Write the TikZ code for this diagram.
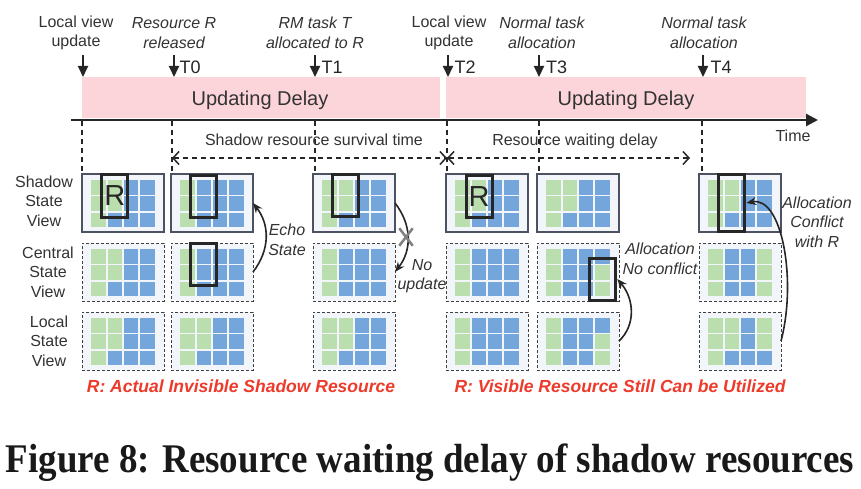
\documentclass[tikz,border=0pt]{standalone}
\usepackage{fontspec}
\setmainfont{Liberation Sans}
\newfontfamily\capfont{Liberation Serif}
\usetikzlibrary{arrows.meta,calc,shapes.misc}

\definecolor{cellg}{HTML}{BBDEAF}
\definecolor{cellb}{HTML}{74A6DB}
\definecolor{bandpink}{HTML}{FCD5DB}
\definecolor{panelbg}{HTML}{F2F5FA}
\definecolor{txt}{HTML}{333333}
\definecolor{redtxt}{HTML}{EE3A2A}
\definecolor{dark}{HTML}{262626}
\definecolor{pborder}{HTML}{4D5263}

\tikzset{
  lbl/.style={font=\fontsize{16}{19.5}\selectfont, text=txt, align=center, inner sep=0pt},
  ilbl/.style={font=\fontsize{16}{19.5}\selectfont\itshape, text=txt, align=center, inner sep=0pt},
  tlbl/.style={font=\fontsize{18}{20}\selectfont, text=dark, inner sep=0pt, anchor=west},
  bigl/.style={font=\fontsize{20}{22}\selectfont, text=txt, inner sep=0pt},
  redl/.style={font=\fontsize{17.5}{20}\selectfont\bfseries\itshape, text=redtxt, inner sep=0pt},
  band/.style={fill=bandpink, inner sep=0pt, minimum height=41pt},
  panel/.style={fill=panelbg, inner sep=0pt, outer sep=0pt, minimum width=82pt, minimum height=58pt},
  shadowbox/.style={draw=pborder, line width=1.2pt},
  dashbox/.style={draw=black!75, line width=1pt, dash pattern=on 3pt off 2pt},
  hl/.style={draw=dark, line width=3pt, inner sep=0pt, minimum width=26pt, minimum height=42pt},
  downarr/.style={draw=dark, line width=2pt, -{Triangle[length=11pt,width=10pt]}},
  axisline/.style={draw=dark, line width=2.5pt, -{Triangle[length=12pt,width=12pt]}},
  vdash/.style={draw=dark, line width=1.5pt, dash pattern=on 5pt off 4pt},
  dblarr/.style={draw=dark, line width=1.5pt, dash pattern=on 5pt off 4pt,
     {Straight Barb[length=6pt,width=13pt]}-{Straight Barb[length=6pt,width=13pt]}},
  curvarr/.style={draw=dark, line width=1.6pt, -{Stealth[length=10pt,width=8pt]}},
}

\newcommand\gridpanel[5]{%
  \node[panel,#4] (#1) at ({#2+41},{#3+29}) {};
  \foreach \c [count=\i from 0] in {#5} {
    \pgfmathtruncatemacro\rw{floor(\i/4)}
    \pgfmathtruncatemacro\cl{\i-4*\rw}
    \fill[fill=cell\c] ({#2+9.25+\cl*16.3},{#3+6+\rw*16.3}) rectangle ++(14.6,14.6);
  }
}

\begin{document}
\begin{tikzpicture}[x=1pt,y=-1pt]
\useasboundingbox (0,0) rectangle (861,489);
\fill[white] (0,0) rectangle (861,489);

% bands
\node[band, minimum width=358pt] (band1) at (261,97.5) {};
\node[band, minimum width=360pt] (band2) at (626,97.5) {};
\node[bigl] (ud1) at (260,100) {Updating Delay};
\node[bigl] (ud2) at (626,100) {Updating Delay};

% axis
\coordinate (axl) at (71,120);
\coordinate (axr) at (818,120);
\draw[axisline] (axl) -- (axr);
\node[lbl] (time) at (793,136) {Time};

% top labels
\node[lbl]  (L1) at (76,33)  {Local view\\update};
\node[ilbl] (L2) at (174,33) {Resource R\\released};
\node[ilbl] (L3) at (315,33) {RM task T\\allocated to R};
\node[lbl]  (L4) at (449,33) {Local view\\update};
\node[ilbl] (L5) at (542,33) {Normal task\\allocation};
\node[ilbl] (L6) at (704,33) {Normal task\\allocation};

% arrow end points on the band
\coordinate (a1) at (83,77);
\coordinate (a2) at (174,77);
\coordinate (a3) at (315,77);
\coordinate (a4) at (448,77);
\coordinate (a5) at (539,77);
\coordinate (a6) at (703,77);
\foreach \a in {a1,a2,a3,a4,a5,a6} {
  \coordinate (\a s) at ($(\a)+(0,-22)$);
  \draw[downarr] (\a s) -- (\a);
}
\node[tlbl] (T0) at ($(a2)+(5.5,-10)$) {T0};
\node[tlbl] (T1) at ($(a3)+(6.5,-10)$) {T1};
\node[tlbl] (T2) at ($(a4)+(6.5,-10)$) {T2};
\node[tlbl] (T3) at ($(a5)+(7,-10)$) {T3};
\node[tlbl] (T4) at ($(a6)+(7.5,-10)$) {T4};

% vertical dashed lines
\foreach \n/\x in {v1/82,v2/172,v3/315,v4/447,v5/539,v6/702} {
  \coordinate (\n t) at (\x,121);
  \coordinate (\n b) at (\x,172);
  \draw[vdash] (\n t) -- (\n b);
}

% dashed interval arrows
\coordinate (sa) at (172,158);
\coordinate (sb) at (447,158);
\coordinate (sc) at (690,158);
\draw[dblarr] (sa) -- (sb);
\draw[dblarr] (sb) -- (sc);
\node[lbl] (surv) at (314,140) {Shadow resource survival time};
\node[lbl] (wait) at (575,141) {Resource waiting delay};

% row labels
\node[lbl] (rs) at (44,201) {Shadow\\State\\View};
\node[lbl] (rc) at (48,272) {Central\\State\\View};
\node[lbl] (rl) at (49,341) {Local\\State\\View};

% panels
\gridpanel{p1s}{82}{174}{shadowbox}{g,g,b,b,g,g,b,b,g,b,b,b}
\gridpanel{p1c}{82}{243}{dashbox}{g,g,b,b,g,g,b,b,g,b,b,b}
\gridpanel{p1l}{82}{312}{dashbox}{g,g,b,b,g,g,b,b,g,b,b,b}

\gridpanel{p2s}{171}{174}{shadowbox}{g,b,b,b,g,b,b,b,g,b,b,b}
\gridpanel{p2c}{171}{243}{dashbox}{g,b,b,b,g,b,b,b,g,b,b,b}
\gridpanel{p2l}{171}{312}{dashbox}{g,g,b,b,g,g,b,b,g,b,b,b}

\gridpanel{p3s}{313}{174}{shadowbox}{g,g,b,b,g,g,b,b,g,b,b,b}
\gridpanel{p3c}{313}{243}{dashbox}{g,b,b,b,g,b,b,b,g,b,b,b}
\gridpanel{p3l}{313}{312}{dashbox}{g,g,b,b,g,g,b,b,g,b,b,b}

\gridpanel{p4s}{446}{174}{shadowbox}{g,g,b,b,g,g,b,b,g,b,b,b}
\gridpanel{p4c}{446}{243}{dashbox}{g,b,b,b,g,b,b,b,g,b,b,b}
\gridpanel{p4l}{446}{312}{dashbox}{g,b,b,b,g,b,b,b,g,b,b,b}

\gridpanel{p5s}{537}{174}{shadowbox}{g,g,b,b,g,g,b,b,g,b,b,b}
\gridpanel{p5c}{537}{243}{dashbox}{g,b,b,b,g,b,b,g,g,b,b,g}
\gridpanel{p5l}{537}{312}{dashbox}{g,b,b,b,g,b,b,g,g,b,b,g}

\gridpanel{p6s}{699}{174}{shadowbox}{g,g,b,b,g,g,b,b,g,b,b,b}
\gridpanel{p6c}{699}{243}{dashbox}{g,b,b,g,g,b,b,g,g,b,b,g}
\gridpanel{p6l}{699}{312}{dashbox}{g,g,b,g,g,g,b,g,g,b,b,b}

% highlight boxes
\node[hl, text=dark, font=\fontsize{29}{29}\selectfont] (b1) at (114.75,196) {R};
\node[hl] (b2) at (203.75,196.5) {};
\node[hl] (b3) at (203.75,264) {};
\node[hl] (b4) at (345.75,195.5) {};
\node[hl, text=dark, font=\fontsize{29}{29}\selectfont] (b5) at (479,196.5) {R};
\node[hl] (b6) at (602.75,279) {};
\node[hl, minimum height=56pt] (b7) at (731.75,203) {};

% curved arrows
\draw[curvarr] (p2c.east) .. controls ($(p2c.east)+(17,-22)$) and ($(p2s.east)+(17,22)$) .. (p2s.east);
\draw[curvarr] (p3s.east) .. controls ($(p3s.east)+(17,22)$) and ($(p3c.east)+(17,-22)$) .. (p3c.east);
\draw[curvarr] (p5l.east) .. controls ($(p5l.east)+(17,-16)$) and ($(b6.east)+(17,20)$) .. (b6.east);
\draw[curvarr] (p6l.east) .. controls (797,280) and (782,196) .. (b7.east);
\node[cross out, draw=gray, line width=2.5pt, minimum width=11pt, minimum height=15pt, inner sep=0pt] (nox) at (406,237) {};

\node[ilbl] (echo) at (287,240) {Echo\\State};
\node[ilbl] (noup) at (422,276) {No\\update};
\node[ilbl] (anc) at (660,259) {Allocation\\No conflict};
\node[ilbl] (acr) at (817,222) {Allocation\\Conflict\\with R};

% red notes
\node[redl] (red1) at (241,386) {R: Actual Invisible Shadow Resource};
\node[redl] (red2) at (620,386) {R: Visible Resource Still Can be Utilized};

% caption
\node[inner sep=0pt, text=black!90] (cap) at (430,463) {\scalebox{1}[1.1]{\capfont\bfseries\fontsize{37}{40}\selectfont Figure 8: Resource waiting delay of shadow resources}};
\end{tikzpicture}
\end{document}
